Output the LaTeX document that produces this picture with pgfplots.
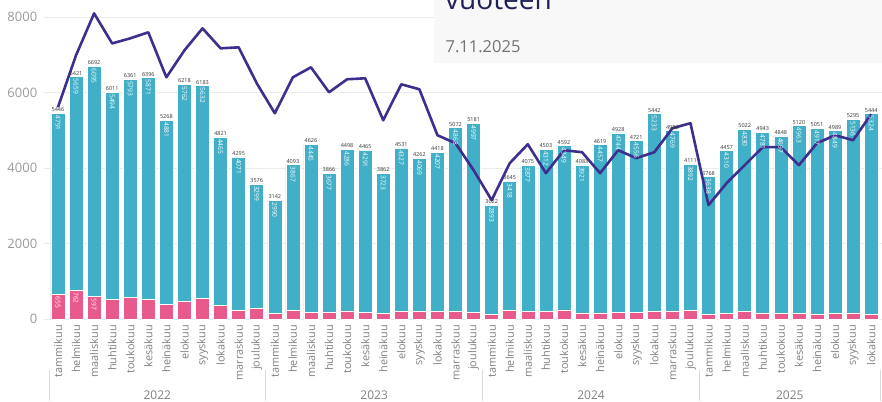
\documentclass[border=0pt]{standalone}
\usepackage{fontspec}
\setmainfont{Open Sans}
\usepackage{pgfplots}
\usepackage{pgfplotstable}
\pgfplotsset{compat=1.18}
\pgfkeys{/pgf/number format/1000 sep={}, /pgf/number format/assume math mode=true}

\definecolor{teal1}{HTML}{41AFC7}
\definecolor{pink1}{HTML}{E8598C}
\definecolor{line1}{HTML}{3D2F8E}
\definecolor{gridc}{HTML}{EBEBEB}
\definecolor{ticktext}{HTML}{9A9A9A}
\definecolor{monthtext}{HTML}{808080}
\definecolor{navy}{HTML}{1E2157}
\definecolor{boxfill}{HTML}{F8F8F8}

\pgfplotstableread{
x pink teal total line
0 655 4791 5446 5610
1 762 5659 6421 6985
2 597 6095 6692 8095
3 517 5494 6011 7300
4 568 5793 6361 7434
5 525 5871 6396 7593
6 387 4881 5268 6402
7 456 5762 6218 7117
8 551 5632 6183 7699
9 356 4465 4821 7170
10 224 4071 4295 7196
11 277 3299 3576 6244
12 152 2990 3142 5450
13 226 3867 4093 6402
14 181 4445 4626 6667
15 189 3677 3866 6006
16 212 4286 4498 6350
17 174 4291 4465 6376
18 139 3723 3862 5265
19 204 4327 4531 6217
20 193 4069 4262 6085
21 211 4207 4418 4868
22 204 4868 5072 4656
23 184 4997 5181 3942
24 129 2893 3022 3148
25 227 3418 3645 4127
26 198 3877 4075 4630
27 191 4312 4503 3863
28 243 4349 4592 4471
29 162 3921 4083 4418
30 162 4457 4619 3863
31 184 4744 4928 4471
32 165 4556 4721 4260
33 209 5233 5442 4418
34 217 4769 4986 5053
35 219 3892 4111 5186
36 130 3638 3768 3016
37 147 4310 4457 3598
38 192 4830 5022 4074
39 162 4781 4943 4551
40 151 4697 4848 4551
41 157 4963 5120 4074
42 134 4917 5051 4656
43 140 4849 4989 4868
44 159 5136 5295 4736
45 120 5324 5444 5424
}\data

\pgfplotstableread{
x pink
0 655
1 762
2 597
}\pinklab

\pgfplotsset{
  base/.style={
    width=837.6pt, height=319pt, scale only axis,
    xmin=-0.75, xmax=45.6, ymin=0, ymax=8450,
    /pgf/number format/assume math mode=true,
  }
}

\begin{document}
\begin{tikzpicture}
\useasboundingbox (-44.4pt,-82pt) rectangle (837.6pt,319pt);
\clip (-44.4pt,-82pt) rectangle (837.6pt,319pt);
\begin{axis}[base,
  axis line style={draw=none},
  major tick length=0pt,
  ymajorgrids, grid style={gridc, line width=0.6pt},
  ytick={0,2000,4000,6000,8000},
  yticklabel style={font=\fontsize{13}{13}\selectfont, text=ticktext, inner sep=0pt, anchor=east},
  yticklabel shift=7pt,
  scaled y ticks=false,
  xtick={0,...,45},
  xticklabels={tammikuu,helmikuu,maaliskuu,huhtikuu,toukokuu,kesäkuu,heinäkuu,elokuu,syyskuu,lokakuu,marraskuu,joulukuu,
               tammikuu,helmikuu,maaliskuu,huhtikuu,toukokuu,kesäkuu,heinäkuu,elokuu,syyskuu,lokakuu,marraskuu,joulukuu,
               tammikuu,helmikuu,maaliskuu,huhtikuu,toukokuu,kesäkuu,heinäkuu,elokuu,syyskuu,lokakuu,marraskuu,joulukuu,
               tammikuu,helmikuu,maaliskuu,huhtikuu,toukokuu,kesäkuu,heinäkuu,elokuu,syyskuu,lokakuu},
  xticklabel style={rotate=90, anchor=east, font=\fontsize{10.9}{11}\selectfont, text=monthtext, inner sep=0pt},
  xticklabel shift=6pt,
  ybar stacked, bar width=14pt,
]
\addplot[fill=pink1, draw=white, line width=0.6pt] table[x=x,y=pink]{\data};
\addplot[fill=teal1, draw=white, line width=0.6pt] table[x=x,y=teal]{\data};
\end{axis}

\begin{axis}[base, hide axis, clip=false]
\addplot[draw=none, mark=none, nodes near coords, point meta=explicit,
  nodes near coords style={rotate=-90, anchor=west, font=\fontsize{6.6}{7}\selectfont, text=white, inner sep=2pt}]
  table[x=x,y=total,meta=teal]{\data};
\addplot[draw=none, mark=none, nodes near coords, point meta=explicit,
  nodes near coords style={rotate=-90, anchor=west, font=\fontsize{6.6}{7}\selectfont, text=white, inner sep=2pt}]
  table[x=x,y=pink,meta=pink]{\pinklab};
\addplot[draw=none, mark=none, nodes near coords, point meta=explicit,
  nodes near coords style={anchor=south, font=\fontsize{5.5}{6}\selectfont, text=black!80, inner sep=1.2pt}]
  table[x=x,y=total,meta=total]{\data};
\addplot[line1, line width=2.6pt, line join=round, mark=none] table[x=x,y=line]{\data};
\pgfplotsinvokeforeach{-0.5,11.5,23.5,35.5,45.5}{
  \draw[black!15, line width=0.6pt] (axis cs:#1,0) ++(0pt,-51pt) -- ++(0pt,-31pt);
}
\node[font=\fontsize{12}{12}\selectfont, text=monthtext, yshift=-76pt] at (axis cs:5.5,0) {2022};
\node[font=\fontsize{12}{12}\selectfont, text=monthtext, yshift=-76pt] at (axis cs:17.5,0) {2023};
\node[font=\fontsize{12}{12}\selectfont, text=monthtext, yshift=-76pt] at (axis cs:29.5,0) {2024};
\node[font=\fontsize{12}{12}\selectfont, text=monthtext, yshift=-76pt] at (axis cs:40.5,0) {2025};
\end{axis}

\fill[boxfill] (389.6pt,256pt) rectangle (837.6pt,319pt);
\node[anchor=base west, inner sep=0pt, font=\fontsize{28}{28}\selectfont, text=navy] at (400.6pt,309pt) {vuoteen};
\node[anchor=base west, inner sep=0pt, font=\fontsize{16.5}{16.5}\selectfont, text=black!55] at (401pt,266pt) {7.11.2025};
\end{tikzpicture}
\end{document}
